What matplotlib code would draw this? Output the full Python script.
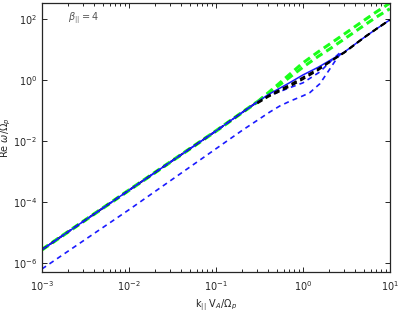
""" Dispersion relation plot, Re omega vs parallel wavenumber """

import numpy as np
import matplotlib
matplotlib.use('Agg')
import matplotlib.pyplot as plt
from matplotlib.ticker import LogLocator, NullFormatter, NullLocator

# Wavenumbers k_par V_A / Omega_p
k_bundle = [1e-3, 1e-2, 0.1, 0.2, 0.3]
k_high = [0.3, 0.4, 0.5, 0.7, 1.0, 1.5, 2.0, 3.0, 5.0, 7.0, 10.0]

# Common low-k part of the upper bundle
w_bundle = [2.7e-6, 2.4e-4, 0.021, 0.085, 0.19]

# Main branch (blue solid)
w_main = [0.19, 0.33, 0.47, 0.8, 1.45, 2.6, 4.2, 8.2, 24.0, 47.0, 93.0]

# Green dashed pair
w_green1 = [0.19, 0.38, 0.65, 1.5, 3.6, 8.3, 14.5, 32.0, 88.0, 170.0, 330.0]
w_green2 = [0.19, 0.36, 0.58, 1.2, 2.6, 5.9, 10.0, 22.0, 60.0, 115.0, 215.0]

# Black dashed pair
w_black1 = [0.18, 0.3, 0.42, 0.68, 1.2, 2.3, 3.9, 8.0, 24.0, 47.0, 93.0]
w_black2 = [0.17, 0.28, 0.38, 0.6, 1.05, 2.1, 3.7, 7.9, 24.0, 47.0, 93.0]

# Blue dashed branches
k_blue1 = [0.3, 0.4, 0.55, 0.7, 1.0, 1.57, 2.16, 2.66]
w_blue1 = [0.19, 0.3, 0.42, 0.55, 0.8, 1.83, 4.5, 7.7]
k_blue2 = [1e-3, 1e-2, 0.1, 0.2, 0.418, 0.544, 0.71, 1.0, 1.2, 1.57, 1.98, 2.45, 2.8]
w_blue2 = [6.3e-7, 5.5e-5, 5.5e-3, 0.022, 0.089, 0.14, 0.2, 0.3, 0.38, 0.75, 2.0, 5.0, 7.9]

GREEN = (0.1, 1.0, 0.1)
BLUE = (0.1, 0.1, 1.0)

fig = plt.figure(figsize=(3.99, 3.12), dpi=100)
ax = fig.add_axes([0.105, 0.128, 0.872, 0.862])

# upper bundle at low k
ax.plot(k_bundle, w_bundle, color=GREEN, lw=2.6, ls=(0, (2.2, 1.2)))
ax.plot(k_bundle, w_bundle, color='k', lw=1.4, ls=(0, (3, 2)))
ax.plot(k_bundle, w_bundle, color=BLUE, lw=1.2, ls=(1.5, (2.8, 2.2)))

ax.plot(k_high, w_green1, color=GREEN, lw=2.2, ls=(0, (2.5, 1.5)))
ax.plot(k_high, w_green2, color=GREEN, lw=2.2, ls=(0, (2.5, 1.5)))
ax.plot(k_blue1, w_blue1, color=BLUE, lw=1.2, ls=(0, (3, 2.5)))
ax.plot(k_blue2, w_blue2, color=BLUE, lw=1.2, ls=(0, (3, 2.5)))

ax.plot(k_bundle + k_high[1:], w_bundle + w_main[1:], color=BLUE, lw=1.1)

ax.plot(k_high, w_black1, color='k', lw=1.4, ls=(0, (3, 2)))
ax.plot(k_high, w_black2, color='k', lw=1.4, ls=(0, (3, 2)))

ax.set_xscale('log')
ax.set_yscale('log')
ax.set_xlim(1e-3, 10)
ax.set_ylim(5e-7, 3.3e2)

ax.xaxis.set_major_locator(LogLocator(base=10, numticks=10))
ax.xaxis.set_minor_locator(LogLocator(base=10, subs=np.arange(2, 10), numticks=20))
ax.xaxis.set_minor_formatter(NullFormatter())
ax.yaxis.set_major_locator(LogLocator(base=100, numticks=10))
ax.yaxis.set_minor_locator(NullLocator())

ax.tick_params(which='both', direction='in', top=True, right=True,
               labelsize=7, colors='#262626', width=0.7)
ax.tick_params(which='major', length=3.5)
ax.tick_params(which='minor', length=2)
ax.tick_params(axis='x', pad=5)
for s in ax.spines.values():
    s.set_linewidth(0.9)
    s.set_color('#262626')

ax.set_xlabel(r'k$_{||}$ V$_A$/$\Omega_p$', fontsize=7, color='#262626')
ax.xaxis.set_label_coords(0.5, -0.095)
ax.set_ylabel(r'Re $\omega$/$\Omega_p$', fontsize=7, color='#262626')
ax.yaxis.set_label_coords(-0.082, 0.5)
ax.text(0.075, 0.935, r'$\beta_{||} = 4$', transform=ax.transAxes, fontsize=7,
        color='#555555', family='serif')

fig.savefig('out.png', dpi=100)
